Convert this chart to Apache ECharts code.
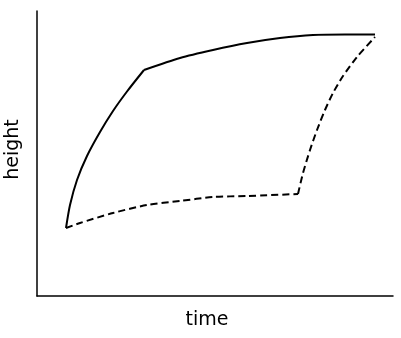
<!DOCTYPE html>
<html>
<head>
<meta charset="utf-8">
<script src="https://cdn.jsdelivr.net/npm/echarts@6/dist/echarts.min.js"></script>
<style>html,body{margin:0;padding:0;background:#fff;}#c{width:401px;height:338px;}</style>
</head>
<body>
<div id="c"></div>
<script>
// values (arbitrary units: time, height)
// solid curve: fast rise, then slow approach
const solidRiseTime     = [29, 33, 40, 50, 63, 76, 90, 107];
const solidRiseHeight   = [68, 91, 116, 140, 164, 185, 204.5, 226];
const solidFlatTime     = [107, 143, 176, 210, 243, 276, 308, 338];
const solidFlatHeight   = [226, 238, 246, 253, 258, 261, 261.5, 261.5];
// dashed curve: slow rise, then fast rise
const dashedSlowTime    = [29, 43, 76, 110, 143, 176, 210, 261];
const dashedSlowHeight  = [68, 73, 83, 91, 95, 99, 100, 102];
const dashedFastTime    = [261, 266, 273, 280, 288, 296, 306, 320, 338];
const dashedFastHeight  = [102, 123, 146, 166, 186, 203, 220, 239, 259];
const xLabel = 'time';
const yLabel = 'height';

const zip = (a, b) => a.map((v, i) => [v, b[i]]);
const chart = echarts.init(document.getElementById('c'));
const axisCommon = {
  type: 'value',
  axisLine: { show: true, onZero: false, lineStyle: { color: '#000', width: 1.5 } },
  axisTick: { show: false },
  axisLabel: { show: false },
  splitLine: { show: false },
  nameLocation: 'middle'
};
const nameFont = { fontFamily: 'DejaVu Sans', fontSize: 19, color: '#000' };
const solidStyle = { color: '#000', width: 2 };
const dashStyle = { color: '#000', width: 2, type: [7, 4] };
const mk = (t, h, style) => ({
  type: 'line', data: zip(t, h), showSymbol: false, smooth: 0.25,
  lineStyle: style, silent: true
});
chart.setOption({
  animation: false,
  backgroundColor: '#fff',
  grid: { left: 37, right: 8, top: 11, bottom: 42, containLabel: false, outerBoundsMode: 'none' },
  xAxis: Object.assign({}, axisCommon, { min: 0, max: 356, name: xLabel, nameGap: 15,
    nameTextStyle: Object.assign({ padding: [0, 16, 0, 0] }, nameFont) }),
  yAxis: Object.assign({}, axisCommon, { min: 0, max: 285, name: yLabel, nameGap: 14,
    nameTextStyle: Object.assign({ padding: [0, 0, 0, 8] }, nameFont) }),
  series: [
    mk(solidRiseTime, solidRiseHeight, solidStyle),
    mk(solidFlatTime, solidFlatHeight, solidStyle),
    mk(dashedSlowTime, dashedSlowHeight, dashStyle),
    mk(dashedFastTime, dashedFastHeight, dashStyle)
  ]
});
</script>
</body>
</html>
